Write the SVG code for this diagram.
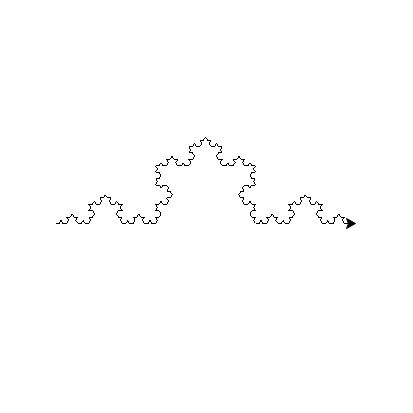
<svg xmlns="http://www.w3.org/2000/svg" xmlns:xlink="http://www.w3.org/1999/xlink" width="413" height="413" viewBox="0 0 413 413">
<style>
.seg{stroke:#000;stroke-width:1;fill:none;vector-effect:non-scaling-stroke;shape-rendering:crispEdges}
</style>
<defs>
<path id="k0" class="seg" d="M0,0 L300,0"/>
<g id="k1">
<use xlink:href="#k0" transform="scale(0.333333)"/>
<use xlink:href="#k0" transform="translate(100,0) rotate(-60) scale(0.333333)"/>
<use xlink:href="#k0" transform="translate(150,-86.6025) rotate(60) scale(0.333333)"/>
<use xlink:href="#k0" transform="translate(200,0) scale(0.333333)"/>
</g>
<g id="k2">
<use xlink:href="#k1" transform="scale(0.333333)"/>
<use xlink:href="#k1" transform="translate(100,0) rotate(-60) scale(0.333333)"/>
<use xlink:href="#k1" transform="translate(150,-86.6025) rotate(60) scale(0.333333)"/>
<use xlink:href="#k1" transform="translate(200,0) scale(0.333333)"/>
</g>
<g id="k3">
<use xlink:href="#k2" transform="scale(0.333333)"/>
<use xlink:href="#k2" transform="translate(100,0) rotate(-60) scale(0.333333)"/>
<use xlink:href="#k2" transform="translate(150,-86.6025) rotate(60) scale(0.333333)"/>
<use xlink:href="#k2" transform="translate(200,0) scale(0.333333)"/>
</g>
<g id="k4">
<use xlink:href="#k3" transform="scale(0.333333)"/>
<use xlink:href="#k3" transform="translate(100,0) rotate(-60) scale(0.333333)"/>
<use xlink:href="#k3" transform="translate(150,-86.6025) rotate(60) scale(0.333333)"/>
<use xlink:href="#k3" transform="translate(200,0) scale(0.333333)"/>
</g>
</defs>
<rect width="413" height="413" fill="#fff"/>
<g id="curve">
<use xlink:href="#k4" transform="translate(55.5,223.5)"/>
</g>
<g id="turtle">
<polygon points="355.5,223.5 346.5,218.5 348.5,223.5 346.5,228.5" fill="#000" stroke="#000" stroke-width="1"/>
</g>
</svg>
